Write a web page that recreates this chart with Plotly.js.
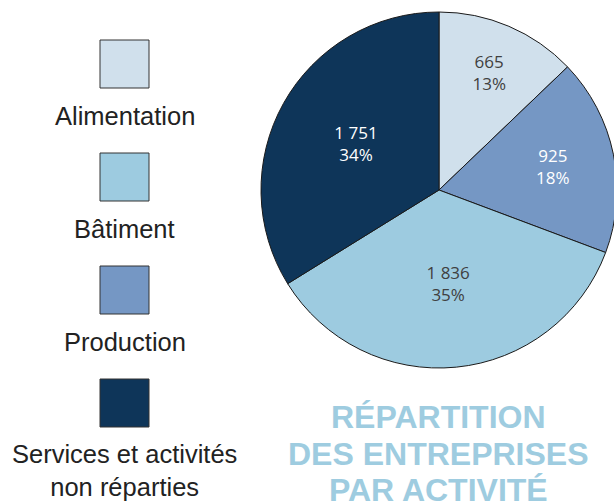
<!DOCTYPE html>
<html>
<head>
<meta charset="utf-8">
<script src="https://cdn.plot.ly/plotly-3.0.1.min.js"></script>
<style>
html,body{margin:0;padding:0;overflow:hidden;background:#fff;width:614px;height:502px;}
#chart{width:620px;height:502px;}
</style>
</head>
<body>
<div id="chart"></div>
<script>
// Data (slice order: clockwise from 12 o'clock)
const sliceLabels = ["Alimentation", "Production", "Bâtiment", "Services et activités non réparties"];
const sliceValues = [665, 925, 1836, 1751];
const sliceColors = ["#d0e0ec", "#7597c4", "#9dcbe0", "#0e3559"];
const sliceTextColors = ["#404040", "#ffffff", "#404040", "#ffffff"];

// Legend order and labels
const legendLabels = ["Alimentation", "Bâtiment", "Production", "Services et activités<br>non réparties"];
const legendColors = ["#d0e0ec", "#9dcbe0", "#7597c4", "#0e3559"];

const titleLines = ["RÉPARTITION", "DES ENTREPRISES", "PAR ACTIVITÉ"];

const W = 620, H = 502;
const px = v => v / W;
const py = v => 1 - v / H;

const trace = {
  type: "pie",
  labels: sliceLabels,
  values: sliceValues,
  sort: false,
  direction: "clockwise",
  rotation: 0,
  marker: { colors: sliceColors, line: { color: "#1a1a1a", width: 1 } },
  textposition: "inside",
  insidetextorientation: "horizontal",
  texttemplate: "%{value:,}<br>%{percent:.0%}",
  insidetextfont: { family: "Open Sans, sans-serif", size: 17, color: sliceTextColors },
  hoverinfo: "none",
  showlegend: false,
  domain: { x: [px(261), px(617)], y: [py(368), py(12)] }
};

const shapes = [];
const annotations = [];
const sqTop0 = 40, step = 113, sqH = 48, sqL = 100, sqR = 149;
legendLabels.forEach((lab, i) => {
  const top = sqTop0 + i * step;
  shapes.push({
    type: "rect", xref: "paper", yref: "paper",
    x0: px(sqL), x1: px(sqR), y0: py(top + sqH), y1: py(top),
    fillcolor: legendColors[i], line: { color: "#333333", width: 1 }
  });
  const twoLines = lab.indexOf("<br>") >= 0;
  annotations.push({
    xref: "paper", yref: "paper",
    x: px((sqL + sqR) / 2), y: py(top + sqH + (twoLines ? 43 : 28)),
    xanchor: "center", yanchor: "middle",
    text: lab, showarrow: false,
    font: { family: "Liberation Sans, Arial, sans-serif", size: 25.5, color: "#222222" }
  });
});

titleLines.forEach((t, i) => {
  annotations.push({
    xref: "paper", yref: "paper",
    x: px(438), y: py(417 + i * 36.5),
    xanchor: "center", yanchor: "middle",
    text: "<b>" + t + "</b>", showarrow: false,
    font: { family: "Liberation Sans, Arial, sans-serif", size: 32, color: "#9ecce0" }
  });
});

const layout = {
  width: W, height: H,
  margin: { l: 0, r: 0, t: 0, b: 0 },
  paper_bgcolor: "#ffffff",
  separators: ", ",
  showlegend: false,
  shapes: shapes,
  annotations: annotations
};

Plotly.newPlot("chart", [trace], layout, { staticPlot: true, displayModeBar: false });
</script>
</body>
</html>
